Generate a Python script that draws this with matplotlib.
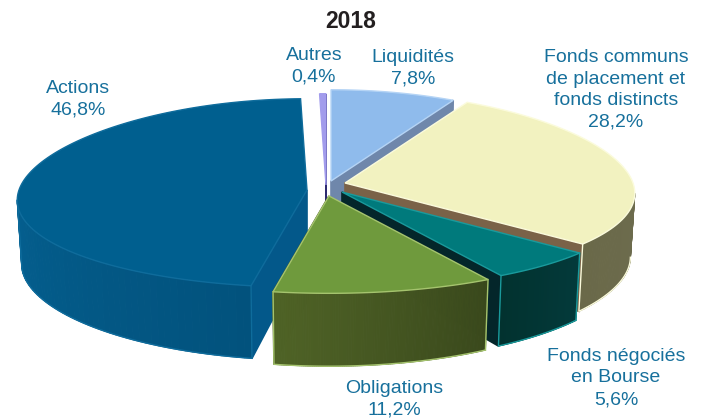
import numpy as np
import matplotlib
matplotlib.use('Agg')
import matplotlib.pyplot as plt
from matplotlib.colors import to_rgb

# values, clockwise from 12 o'clock
labels = ['Liquidités', 'Fonds communs\nde placement et\nfonds distincts', 'Fonds négociés\nen Bourse',
          'Obligations', 'Actions', 'Autres']
values = [7.8, 28.2, 5.6, 11.2, 46.8, 0.4]
value_text = ['7,8%', '28,2%', '5,6%', '11,2%', '46,8%', '0,4%']

# slice apex in pixels (explosion)
apex = [(331, 181), (345, 183), (342, 192), (329, 196), (307, 190), (326, 185)]
top_col = ['#8fbbec', '#f2f2c0', '#007a7c', '#6f9a3d', '#005f8f', '#a29cec']
edge_col = ['#b5d4f5', '#fbfbdc', '#1a9a9c', '#a5c46e', '#0f6c9c', '#a29cec']
wall_a = ['#6f87ab', '#6d6c4e', '#033a3b', '#3a491c', '#02527d', '#2d2a70']
wall_b = ['#6f87ab', '#6a6949', '#02322f', '#4f6326', '#045f8f', '#2d2a70']
side_col = ['#6f87ab', '#7a6248', '#04262a', '#3a481b', '#03588a', '#2d2a70']
label_pos = [(413, 68), (616, 90), (616, 378), (394, 399), (78, 99), (314, 66)]
text_col = '#17709c'

RX = 288.
RY = 93.


def project(t, r, center):
    dx = RX * r * np.sin(t)
    dy = -RY * r * np.cos(t)
    f = 1 + 0.0012 * dy
    squeeze = np.where(dy > 0, 1 + 0.0005 * dy, 1 + 0.0002 * dy)
    return center[0] + dx * f, center[1] + dy * squeeze


def depth(t):
    return 64 + 0.0012 * (RY * np.cos(t)) ** 2


def mix(a, b, k):
    a, b = np.array(to_rgb(a)), np.array(to_rgb(b))
    return tuple(a + (b - a) * k)


plt.rcParams['font.family'] = ['Liberation Sans', 'DejaVu Sans']

fig = plt.figure(figsize=(7.04, 4.18), dpi=100)
ax = fig.add_axes([0, 0, 1, 1])
ax.set_xlim(0, 704)
ax.set_ylim(418, 0)
ax.axis('off')

edges = np.cumsum([0] + values) / 100. * 2 * np.pi
# painter's order, back to front
order = [5, 0, 4, 1, 2, 3]
for i in order:
    t0, t1 = edges[i], edges[i + 1]
    c = apex[i]
    ts = np.linspace(t0, t1, 120)
    xs, ys = project(ts, 1., c)
    bx, by = project(ts, 0.985, c)
    by = by + depth(ts)

    # radial wall facing the viewer
    t_side = t0 if i == 4 else t1
    sx, sy = project(t_side, 1., c)
    sbx, sby = project(t_side, 0.985, c)
    ax.fill([c[0], sx, sbx, c[0]], [c[1], sy, sby + depth(t_side), c[1] + 64],
            facecolor=side_col[i], edgecolor=side_col[i], lw=1.2)

    # outer wall, only the part turned to the viewer
    idx = np.where(np.cos(ts) < -0.1)[0]
    for k, j in enumerate(idx[:-1]):
        col = mix(wall_a[i], wall_b[i], k / max(len(idx) - 2, 1))
        ax.fill([xs[j], xs[j + 1], bx[j + 1], bx[j]],
                [ys[j], ys[j + 1], by[j + 1], by[j]],
                facecolor=col, edgecolor=col, lw=0.8)
    if len(idx) > 1:
        a, b = idx[0], idx[-1]
        ax.plot(np.r_[bx[idx], xs[b]], np.r_[by[idx], ys[b]], color=edge_col[i], lw=1.0)
        if i in (2, 3, 4):
            ax.plot([xs[a], bx[a]], [ys[a], by[a]], color=edge_col[i], lw=1.0)

    # top face
    ax.fill(np.r_[c[0], xs], np.r_[c[1], ys], facecolor=top_col[i], edgecolor=edge_col[i], lw=1.0)

for lab, val, pos in zip(labels, value_text, label_pos):
    ax.text(pos[0], pos[1], lab + '\n' + val, ha='center', va='center', color=text_col,
            fontsize=14, linespacing=1.35)

ax.text(351, 22, '2018', ha='center', va='center', fontsize=16.5, fontweight='bold', color='#231f20')

fig.savefig('out.png', dpi=100)
